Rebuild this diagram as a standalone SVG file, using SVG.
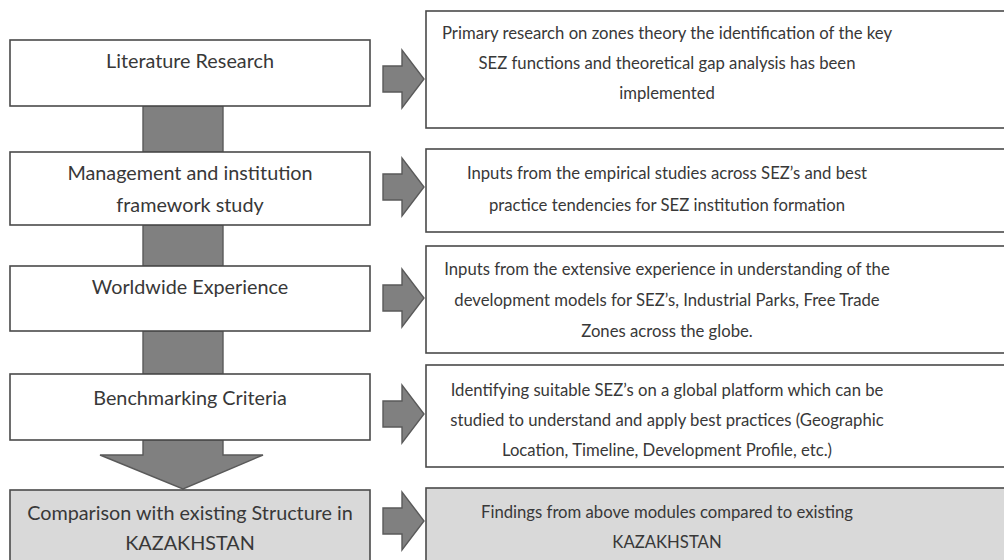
<svg xmlns="http://www.w3.org/2000/svg" width="1004" height="560" viewBox="0 0 1004 560">
  <style>
    .box { fill: #ffffff; stroke: #4a4a4a; stroke-width: 1.6; }
    .box.final { fill: #d9d9d9; }
    .conn { fill: #808080; stroke: #5a5a5a; stroke-width: 1.4; stroke-linejoin: miter; }
    text { font-family: "Lato", "Liberation Sans", sans-serif; fill: #383838; text-anchor: middle; }
    .step text { font-size: 19.8px; }
    .out text { font-size: 16.7px; }
  </style>
  <defs>
    <!-- block arrow pointing right, centred on y=0 -->
    <path id="rarrow" d="M383,-13 H402 V-29 L424,0 L402,29 V13 H383 Z"/>
  </defs>
  <rect width="1004" height="560" fill="#ffffff"/>

  <!-- connectors -->
  <g id="connectors">
    <rect class="conn" x="143" y="106" width="80" height="46"/>
    <rect class="conn" x="143" y="225" width="80" height="41"/>
    <rect class="conn" x="143" y="331" width="80" height="43"/>
    <path class="conn" d="M143,440 H223 V455 H263 L183,489 L100,455 H143 Z"/>
    <use href="#rarrow" class="conn" transform="translate(0,79)"/>
    <use href="#rarrow" class="conn" transform="translate(0,187)"/>
    <use href="#rarrow" class="conn" transform="translate(0,298)"/>
    <use href="#rarrow" class="conn" transform="translate(0,414)"/>
    <use href="#rarrow" class="conn" transform="translate(0,521)"/>
  </g>

  <!-- left column: study steps -->
  <g id="step-literature" class="step">
    <rect class="box" x="10" y="40" width="360" height="66"/>
    <text x="190" y="68">Literature Research</text>
  </g>
  <g id="step-management" class="step">
    <rect class="box" x="10" y="152" width="360" height="73"/>
    <text x="190" y="180">Management and institution</text>
    <text x="190" y="212">framework study</text>
  </g>
  <g id="step-worldwide" class="step">
    <rect class="box" x="10" y="266" width="360" height="65"/>
    <text x="190" y="294">Worldwide Experience</text>
  </g>
  <g id="step-benchmarking" class="step">
    <rect class="box" x="10" y="374" width="360" height="66"/>
    <text x="190" y="405">Benchmarking Criteria</text>
  </g>
  <g id="step-comparison" class="step">
    <rect class="box final" x="10" y="490" width="360" height="80"/>
    <text x="190" y="520">Comparison with existing Structure in</text>
    <text x="190" y="550">KAZAKHSTAN</text>
  </g>

  <!-- right column: outcomes -->
  <g id="out-literature" class="out">
    <rect class="box" x="426" y="11" width="590" height="117"/>
    <text x="667" y="39">Primary research on zones theory the identification of the key</text>
    <text x="667" y="69">SEZ functions and theoretical gap analysis has been</text>
    <text x="667" y="99">implemented</text>
  </g>
  <g id="out-management" class="out">
    <rect class="box" x="426" y="149" width="590" height="83"/>
    <text x="667" y="179">Inputs from the empirical studies across SEZ’s and best</text>
    <text x="667" y="211">practice tendencies for SEZ institution formation</text>
  </g>
  <g id="out-worldwide" class="out">
    <rect class="box" x="426" y="246" width="590" height="107"/>
    <text x="667" y="275">Inputs from the extensive experience in understanding of the</text>
    <text x="667" y="306">development models for SEZ’s, Industrial Parks, Free Trade</text>
    <text x="667" y="337">Zones across the globe.</text>
  </g>
  <g id="out-benchmarking" class="out">
    <rect class="box" x="426" y="365" width="590" height="102"/>
    <text x="667" y="396">Identifying suitable SEZ’s on a global platform which can be</text>
    <text x="667" y="426">studied to understand and apply best practices (Geographic</text>
    <text x="667" y="456">Location, Timeline, Development Profile, etc.)</text>
  </g>
  <g id="out-comparison" class="out">
    <rect class="box final" x="426" y="488" width="590" height="82"/>
    <text x="667" y="518">Findings from above modules compared to existing</text>
    <text x="667" y="548">KAZAKHSTAN</text>
  </g>
</svg>
